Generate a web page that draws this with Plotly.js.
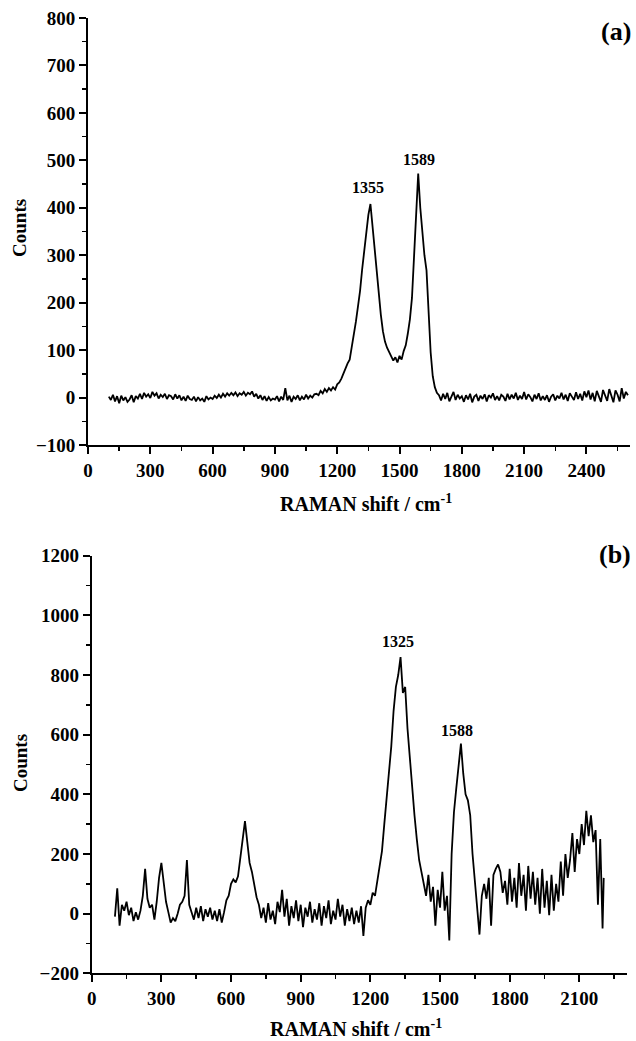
<!DOCTYPE html>
<html>
<head>
<meta charset="utf-8">
<script src="https://cdn.plot.ly/plotly-3.0.1.min.js"></script>
<style>html,body{margin:0;padding:0;background:#fff;}#chart{width:636px;height:1041px;}</style>
</head>
<body>
<div id="chart"></div>
<script>
// ---- Panel (a) data ----
const shiftA = [
100,110,120,130,140,150,160,170,180,190,
200,210,220,230,240,250,260,270,280,290,
300,310,320,330,340,350,360,370,380,390,
400,410,420,430,440,450,460,470,480,490,
500,510,520,530,540,550,560,570,580,590,
600,610,620,630,640,650,660,670,680,690,
700,710,720,730,740,750,760,770,780,790,
800,810,820,830,840,850,860,870,880,890,
900,910,920,930,940,950,960,970,980,990,
1000,1010,1020,1030,1040,1050,1060,1070,1080,1090,
1100,1110,1120,1130,1140,1150,1160,1170,1180,1190,
1200,1210,1220,1230,1240,1250,1260,1270,1280,1290,
1300,1310,1320,1330,1340,1350,1360,1370,1380,1390,
1400,1410,1420,1430,1440,1450,1460,1470,1480,1490,
1500,1510,1520,1530,1540,1550,1560,1570,1580,1590,
1600,1610,1620,1630,1640,1650,1660,1670,1680,1690,
1700,1710,1720,1730,1740,1750,1760,1770,1780,1790,
1800,1810,1820,1830,1840,1850,1860,1870,1880,1890,
1900,1910,1920,1930,1940,1950,1960,1970,1980,1990,
2000,2010,2020,2030,2040,2050,2060,2070,2080,2090,
2100,2110,2120,2130,2140,2150,2160,2170,2180,2190,
2200,2210,2220,2230,2240,2250,2260,2270,2280,2290,
2300,2310,2320,2330,2340,2350,2360,2370,2380,2390,
2400,2410,2420,2430,2440,2450,2460,2470,2480,2490,
2500,2510,2520,2530,2540,2550,2560,2570,2580,2590,
2600];
const countsA = [
2,-5,6,-8,3,-12,4,-6,1,-9,
-4,5,-10,3,-2,8,-3,10,2,7,
-1,12,4,9,-2,6,1,8,-3,5,
3,-4,7,-2,5,-6,2,-7,4,-3,
-5,2,-8,1,-6,-2,-9,3,-4,0,
-3,4,-1,6,0,8,2,9,4,10,
5,11,3,9,6,12,4,10,7,13,
2,8,-2,5,-5,3,-7,1,-6,-2,
-4,3,-8,2,-5,20,-6,4,-9,2,
-3,5,-6,2,-4,6,-2,4,0,7,
8,5,14,9,18,12,20,15,22,17,
28,32,40,52,60,72,80,105,130,160,
192,225,270,310,345,385,408,360,305,262,
215,175,140,118,105,96,88,78,85,74,
88,80,98,110,135,165,210,290,390,472,
400,345,300,268,170,95,45,22,10,5,
-6,8,-3,10,-8,4,12,-5,6,-2,
3,-9,5,-4,8,-10,2,6,-7,4,
-3,7,-8,5,0,9,-5,3,-6,6,
2,-7,8,-4,6,-2,10,-5,4,-3,
12,-4,7,1,-8,6,-3,9,-6,3,
-5,5,-9,2,7,-6,4,-2,10,-4,
6,-7,9,2,-5,11,-3,8,-6,13,
1,15,-4,10,-8,14,2,-9,16,3,
-7,18,4,-10,15,6,-8,20,-2,12,
5];
const peaksA = ['1355', '1589'];
const peakPosA = [1348, 1593];
const peakLabelYA = [443, 501];

// ---- Panel (b) data ----
const shiftB = [
100,110,120,130,140,150,160,170,180,190,
200,210,220,230,240,250,260,270,280,290,
300,310,320,330,340,350,360,370,380,390,
400,410,420,430,440,450,460,470,480,490,
500,510,520,530,540,550,560,570,580,590,
600,610,620,630,640,650,660,670,680,690,
700,710,720,730,740,750,760,770,780,790,
800,810,820,830,840,850,860,870,880,890,
900,910,920,930,940,950,960,970,980,990,
1000,1010,1020,1030,1040,1050,1060,1070,1080,1090,
1100,1110,1120,1130,1140,1150,1160,1170,1180,1190,
1200,1210,1220,1230,1240,1250,1260,1270,1280,1290,
1300,1310,1320,1330,1340,1350,1360,1370,1380,1390,
1400,1410,1420,1430,1440,1450,1460,1470,1480,1490,
1500,1510,1520,1530,1540,1550,1560,1570,1580,1590,
1600,1610,1620,1630,1640,1650,1660,1670,1680,1690,
1700,1710,1720,1730,1740,1750,1760,1770,1780,1790,
1800,1810,1820,1830,1840,1850,1860,1870,1880,1890,
1900,1910,1920,1930,1940,1950,1960,1970,1980,1990,
2000,2010,2020,2030,2040,2050,2060,2070,2080,2090,
2100,2110,2120,2130,2140,2150,2160,2170,2180,2190,
2200,2205];
const countsB = [
-10,85,-40,30,10,40,-5,20,-25,5,
-20,10,60,150,50,20,30,-20,40,120,
170,110,40,5,-30,-15,-25,0,30,40,
60,180,30,5,-20,20,-15,25,-25,15,
-10,20,-20,10,-25,15,-30,5,45,60,
100,115,105,125,190,260,310,240,170,140,
95,55,30,-15,20,-30,35,-20,10,-35,
40,5,80,-10,50,-40,25,-15,45,-25,
30,-45,20,-10,40,-30,15,-20,35,-40,
25,-15,45,-35,10,-20,50,-10,30,-40,
15,-25,20,-35,10,-30,25,-75,20,45,
30,70,60,110,160,210,300,380,460,560,
680,760,800,860,740,760,620,520,400,330,
250,180,140,100,60,130,40,90,-40,80,
20,140,10,60,-90,200,340,420,500,570,
470,400,380,330,200,110,40,-70,60,100,
50,120,-40,130,150,165,140,70,110,30,
150,40,120,20,170,60,130,10,160,50,
140,30,120,0,150,20,110,-5,130,10,
100,40,175,60,200,120,180,270,140,250,
200,300,230,345,260,330,240,280,30,250,
-50,120];
const peaksB = ['1325', '1588'];
const peakPosB = [1320, 1572];
const peakLabelYB = [914, 614];

const panelLabels = ['(a)', '(b)'];
const xTitle = 'RAMAN shift / cm<sup>-1</sup>';
const yTitle = 'Counts';

const FONT = 'Liberation Serif, Times New Roman, serif';

function axisBase(extra) {
  return Object.assign({
    showline: true, linewidth: 2, linecolor: '#000',
    ticks: 'outside', ticklen: 7, tickwidth: 2, tickcolor: '#000',
    showgrid: false, zeroline: false, automargin: false,
    tickfont: {family: FONT, size: 19, color: '#000', weight: 'bold'}
  }, extra);
}

const traces = [
  {x: shiftA, y: countsA, type: 'scatter', mode: 'lines', xaxis: 'x', yaxis: 'y',
   line: {color: '#000', width: 1.8}, hoverinfo: 'skip'},
  {x: shiftB, y: countsB, type: 'scatter', mode: 'lines', xaxis: 'x2', yaxis: 'y2',
   line: {color: '#000', width: 1.8}, hoverinfo: 'skip'}
];

const annotations = [];
peaksA.forEach((t, i) => annotations.push({
  text: '<b>' + t + '</b>', x: peakPosA[i], y: peakLabelYA[i], xref: 'x', yref: 'y',
  showarrow: false, xanchor: 'center', yanchor: 'middle',
  font: {family: FONT, size: 16, color: '#000'}
}));
peaksB.forEach((t, i) => annotations.push({
  text: '<b>' + t + '</b>', x: peakPosB[i], y: peakLabelYB[i], xref: 'x2', yref: 'y2',
  showarrow: false, xanchor: 'center', yanchor: 'middle',
  font: {family: FONT, size: 16, color: '#000'}
}));
// panel letters
annotations.push({text: '<b>' + panelLabels[0] + '</b>', xref: 'paper', yref: 'paper', x: 0.9686, y: 0.9702,
  showarrow: false, xanchor: 'center', yanchor: 'middle', font: {family: FONT, size: 26, color: '#000'}});
annotations.push({text: '<b>' + panelLabels[1] + '</b>', xref: 'paper', yref: 'paper', x: 0.967, y: 0.4669,
  showarrow: false, xanchor: 'center', yanchor: 'middle', font: {family: FONT, size: 26, color: '#000'}});
// axis titles
annotations.push({text: '<b>' + xTitle + '</b>', xref: 'paper', yref: 'paper', x: 0.5755, y: 0.5168,
  showarrow: false, xanchor: 'center', yanchor: 'middle', font: {family: FONT, size: 20, color: '#000'}});
annotations.push({text: '<b>' + xTitle + '</b>', xref: 'paper', yref: 'paper', x: 0.559, y: 0.0125,
  showarrow: false, xanchor: 'center', yanchor: 'middle', font: {family: FONT, size: 20, color: '#000'}});
annotations.push({text: '<b>' + yTitle + '</b>', xref: 'paper', yref: 'paper', x: 0.0314, y: 0.781,
  showarrow: false, xanchor: 'center', yanchor: 'middle', textangle: -90, font: {family: FONT, size: 19, color: '#000'}});
annotations.push({text: '<b>' + yTitle + '</b>', xref: 'paper', yref: 'paper', x: 0.0314, y: 0.267,
  showarrow: false, xanchor: 'center', yanchor: 'middle', textangle: -90, font: {family: FONT, size: 19, color: '#000'}});

const layout = {
  width: 636, height: 1041,
  margin: {l: 0, r: 0, t: 0, b: 0},
  paper_bgcolor: '#fff', plot_bgcolor: '#fff',
  showlegend: false,
  xaxis: axisBase({domain: [0.1384, 0.9906], anchor: 'y', range: [0, 2610], tick0: 0, dtick: 300,
    minor: {ticks: 'outside', ticklen: 4, tickwidth: 1.5, tickcolor: '#000', dtick: 150, tick0: 0, showgrid: false}}),
  yaxis: axisBase({domain: [0.5725, 0.9827], anchor: 'x', range: [-100, 800], tick0: 0, dtick: 100,
    minor: {ticks: 'outside', ticklen: 4, tickwidth: 1.5, tickcolor: '#000', dtick: 50, tick0: 0, showgrid: false}}),
  xaxis2: axisBase({domain: [0.1442, 0.9854], anchor: 'y2', range: [0, 2304], tick0: 0, dtick: 300,
    minor: {ticks: 'outside', ticklen: 4, tickwidth: 1.5, tickcolor: '#000', dtick: 150, tick0: 0, showgrid: false}}),
  yaxis2: axisBase({domain: [0.0650, 0.4662], anchor: 'x2', range: [-200, 1200], tick0: 0, dtick: 200,
    minor: {ticks: 'outside', ticklen: 4, tickwidth: 1.5, tickcolor: '#000', dtick: 100, tick0: 0, showgrid: false}}),
  annotations: annotations
};

Plotly.newPlot('chart', traces, layout, {staticPlot: true, displayModeBar: false});
</script>
</body>
</html>
